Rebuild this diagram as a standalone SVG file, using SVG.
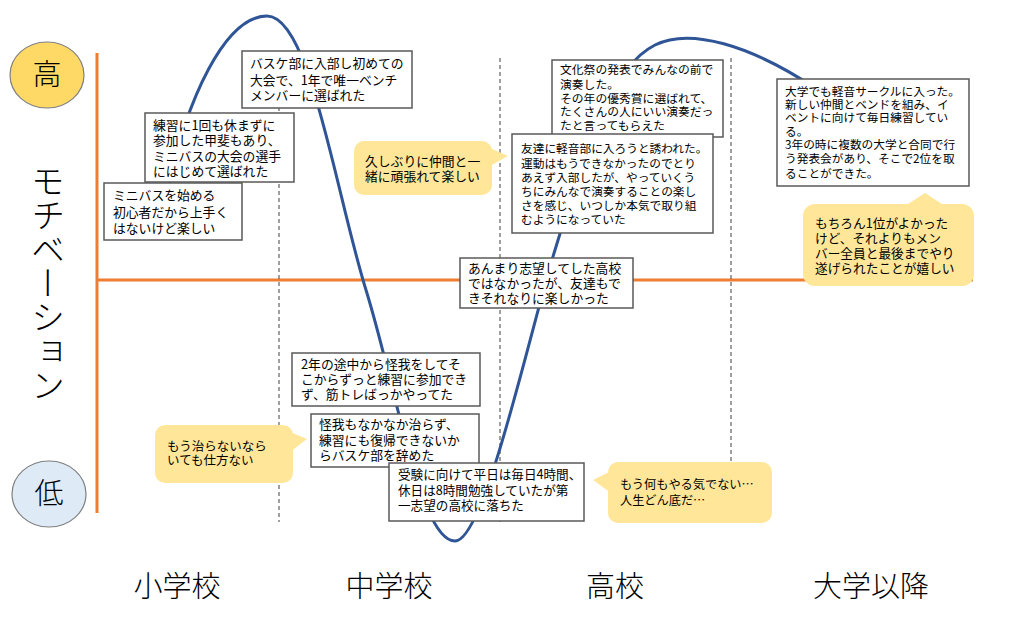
<svg xmlns="http://www.w3.org/2000/svg" width="1024" height="623" viewBox="0 0 1024 623">
<style>
text{font-family:"Noto Sans CJK JP","Noto Sans CJK SC",sans-serif;fill:#000}
.t{font-size:12.8px}
.s{font-size:11.7px}
.big{font-size:29px;font-weight:300;text-anchor:middle}
.box{fill:#fff;stroke:#595959;stroke-width:1.5}
.bub{fill:#FFE699}
.dash{stroke:#404040;stroke-width:1;stroke-dasharray:4 3;fill:none}
.axis{stroke:#ED7D31;stroke-width:3;fill:none}
.curve{stroke:#2F5597;stroke-width:3;fill:none}
</style>
<rect width="1024" height="623" fill="#fff"/>
<g id="axes">
<line class="axis" x1="97" y1="53" x2="97" y2="513"/>
<line class="axis" x1="97" y1="280" x2="973" y2="280"/>
<line class="dash" x1="279" y1="58" x2="279" y2="522"/>
<line class="dash" x1="500" y1="58" x2="500" y2="522"/>
<line class="dash" x1="731" y1="58" x2="731" y2="522"/>
</g>
<g id="high"><ellipse cx="47" cy="75" rx="37" ry="33" fill="#FFD966" stroke="#7F7F7F" stroke-width="1.2"/><text class="big" x="47" y="85">高</text></g>
<g id="low"><ellipse cx="49" cy="494" rx="37" ry="33" fill="#DEEBF7" stroke="#7F7F7F" stroke-width="1.2"/><text class="big" x="49" y="504">低</text></g>
<g id="ylabel"><text x="48" y="164" style="writing-mode:vertical-rl;font-size:34px;font-weight:300">モチベーション</text></g>
<g id="xlabels">
<text class="big" x="177" y="597">小学校</text>
<text class="big" x="389" y="597">中学校</text>
<text class="big" x="615" y="597">高校</text>
<text class="big" x="871" y="597">大学以降</text>
</g>
<g id="connectors">
<path class="curve" d="M168 190 C186 100 225 16 267 16 C310 16 335 190 366 290 C397 390 420 541 455 541 C485 541 530 330 555 250 C580 170 605 70 655 45 C690 27.5 750 45 815 88"/>
</g>
<g id="nodeA"><rect class="box" x="104" y="183" width="138" height="57"/>
<text class="t"><tspan x="113" y="200">ミニバスを始める</tspan><tspan x="113" y="216.5">初心者だから上手く</tspan><tspan x="113" y="232.5">はないけど楽しい</tspan></text></g>
<g id="nodeB"><rect class="box" x="145" y="113" width="149" height="69"/>
<text class="t"><tspan x="153" y="129.5">練習に1回も休まずに</tspan><tspan x="153" y="145">参加した甲斐もあり、</tspan><tspan x="153" y="160.5">ミニバスの大会の選手</tspan><tspan x="153" y="175.5">にはじめて選ばれた</tspan></text></g>
<g id="nodeC"><rect class="box" x="242" y="51" width="170" height="57"/>
<text class="t"><tspan x="250" y="68">バスケ部に入部し初めての</tspan><tspan x="250" y="84.5">大会で、1年で唯一ベンチ</tspan><tspan x="250" y="100">メンバーに選ばれた</tspan></text></g>
<g id="nodeD"><rect class="bub" x="354" y="141" width="138" height="54" rx="10"/><polygon class="bub" points="490,148 508,156 490,166"/>
<text class="t"><tspan x="365" y="165.5">久しぶりに仲間と一</tspan><tspan x="365" y="181">緒に頑張れて楽しい</tspan></text></g>
<g id="nodeE"><rect class="box" x="552" y="60" width="171" height="77"/>
<text class="s" style="font-size:11.8px"><tspan x="560" y="74.4">文化祭の発表でみんなの前で</tspan><tspan x="560" y="88.5">演奏した。</tspan><tspan x="560" y="102.5">その年の優秀賞に選ばれて、</tspan><tspan x="560" y="116.2">たくさんの人にいい演奏だっ</tspan><tspan x="560" y="129.7">たと言ってもらえた</tspan></text></g>
<g id="nodeF"><rect class="box" x="512" y="134" width="201" height="99"/>
<text class="s"><tspan x="521" y="152.7">友達に軽音部に入ろうと誘われた。</tspan><tspan x="521" y="167.5">運動はもうできなかったのでとり</tspan><tspan x="521" y="181.6">あえず入部したが、やっていくう</tspan><tspan x="521" y="196.2">ちにみんなで演奏することの楽し</tspan><tspan x="521" y="209.7">さを感じ、いつしか本気で取り組</tspan><tspan x="521" y="223.9">むようになっていた</tspan></text></g>
<g id="nodeG"><rect class="box" x="460" y="258" width="173" height="50"/>
<text class="t"><tspan x="468" y="273.4">あんまり志望してした高校</tspan><tspan x="468" y="288.2">ではなかったが、友達もで</tspan><tspan x="468" y="303.4">きそれなりに楽しかった</tspan></text></g>
<g id="nodeH"><rect class="box" x="777" y="79" width="192" height="107"/>
<text class="s"><tspan x="785" y="96.1">大学でも軽音サークルに入った。</tspan><tspan x="785" y="108.7">新しい仲間とベンドを組み、イ</tspan><tspan x="785" y="122.1">ベントに向けて毎日練習してい</tspan><tspan x="785" y="135.7">る。</tspan><tspan x="785" y="149.4">3年の時に複数の大学と合同で行</tspan><tspan x="785" y="163.4">う発表会があり、そこで2位を取</tspan><tspan x="785" y="177.7">ることができた。</tspan></text></g>
<g id="nodeI"><rect class="bub" x="803" y="204" width="171" height="82" rx="12"/><polygon class="bub" points="905,206 925,193 945,206"/>
<text class="t" style="font-size:12.7px"><tspan x="815" y="228">もちろん1位がよかった</tspan><tspan x="815" y="243">けど、それよりもメン</tspan><tspan x="815" y="258">バー全員と最後までやり</tspan><tspan x="815" y="273">遂げられたことが嬉しい</tspan></text></g>
<g id="nodeJ"><rect class="box" x="292" y="353" width="188" height="53"/>
<text class="t"><tspan x="301" y="368.5">2年の途中から怪我をしてそ</tspan><tspan x="301" y="384">こからずっと練習に参加でき</tspan><tspan x="301" y="399">ず、筋トレばっかやってた</tspan></text></g>
<g id="nodeK"><rect class="box" x="311" y="414" width="168" height="53"/>
<text class="t"><tspan x="319" y="429.4">怪我もなかなか治らず、</tspan><tspan x="319" y="445">練習にも復帰できないか</tspan><tspan x="319" y="460">らバスケ部を辞めた</tspan></text></g>
<g id="nodeL"><rect class="box" x="389" y="463" width="195" height="58"/>
<text class="t" style="font-size:12.6px"><tspan x="398" y="479.4">受験に向けて平日は毎日4時間、</tspan><tspan x="398" y="495">休日は8時間勉強していたが第</tspan><tspan x="398" y="510">一志望の高校に落ちた</tspan></text></g>
<g id="nodeM"><rect class="bub" x="155" y="425" width="138" height="58" rx="10"/><polygon class="bub" points="290,432 307,439 290,452"/>
<text class="t" style="font-size:12.5px"><tspan x="167" y="451">もう治らないなら</tspan><tspan x="167" y="465">いても仕方ない</tspan></text></g>
<g id="nodeN"><rect class="bub" x="608" y="462" width="164" height="61" rx="10"/><polygon class="bub" points="611,471 593,480 611,493"/>
<text class="t" style="font-size:12.2px"><tspan x="620" y="488.5">もう何もやる気でない…</tspan><tspan x="620" y="504.7">人生どん底だ…</tspan></text></g>
</svg>
